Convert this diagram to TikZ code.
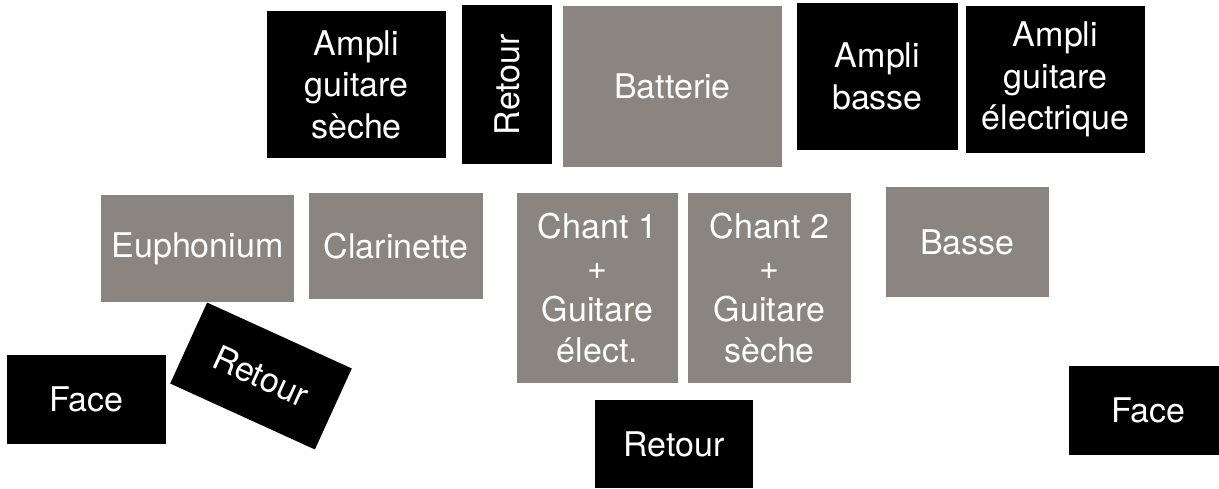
\documentclass[tikz,border=0pt]{standalone}
\usepackage{fontspec}
\setmainfont{TeX Gyre Heros}
\definecolor{stagegray}{RGB}{138,133,128}
\tikzset{
  box/.style={inner sep=0pt, align=center, text=white,
    font=\fontsize{34}{41.5}\selectfont},
  blackbox/.style={box, fill=black},
  graybox/.style={box, fill=stagegray},
}
\begin{document}
\begin{tikzpicture}[x=1pt,y=-1pt]
\useasboundingbox (0,0) rectangle (1219,488);
% top row
\node[blackbox, minimum width=179pt, minimum height=147pt] (ags) at (356.5,84.5) {Ampli\\guitare\\sèche};
\node[blackbox, minimum width=90pt, minimum height=159pt] (ret1) at (507,84.5) {\rotatebox{90}{Retour}};
\node[graybox, minimum width=219pt, minimum height=161pt] (bat) at (672.5,86.5) {Batterie};
\node[blackbox, minimum width=161pt, minimum height=147pt] (abass) at (877.5,76.5) {Ampli\\basse};
\node[blackbox, minimum width=179pt, minimum height=147pt] (age) at (1055.5,79.5) {Ampli\\guitare\\électrique};
% middle row
\node[graybox, minimum width=193pt, minimum height=107pt] (euph) at (197.5,248.5) {Euphonium};
\node[graybox, minimum width=174pt, minimum height=106pt] (clar) at (396,246) {Clarinette};
\node[graybox, minimum width=161pt, minimum height=190pt] (ch1) at (597.5,288) {Chant 1\\+\\Guitare\\élect.};
\node[graybox, minimum width=163pt, minimum height=190pt] (ch2) at (769.5,288) {Chant 2\\+\\Guitare\\sèche};
\node[graybox, minimum width=163pt, minimum height=110pt] (basse) at (967.5,242) {Basse};
% bottom row
\node[blackbox, minimum width=159pt, minimum height=89pt] (face1) at (86.5,399.5) {Face};
\node[blackbox, minimum width=159pt, minimum height=89pt, rotate=-24.5] (ret2) at (261,376) {Retour};
\node[blackbox, minimum width=158pt, minimum height=88pt] (ret3) at (674,444) {Retour};
\node[blackbox, minimum width=159pt, minimum height=89pt] (face2) at (1148.5,410.5) {Face};
\end{tikzpicture}
\end{document}
